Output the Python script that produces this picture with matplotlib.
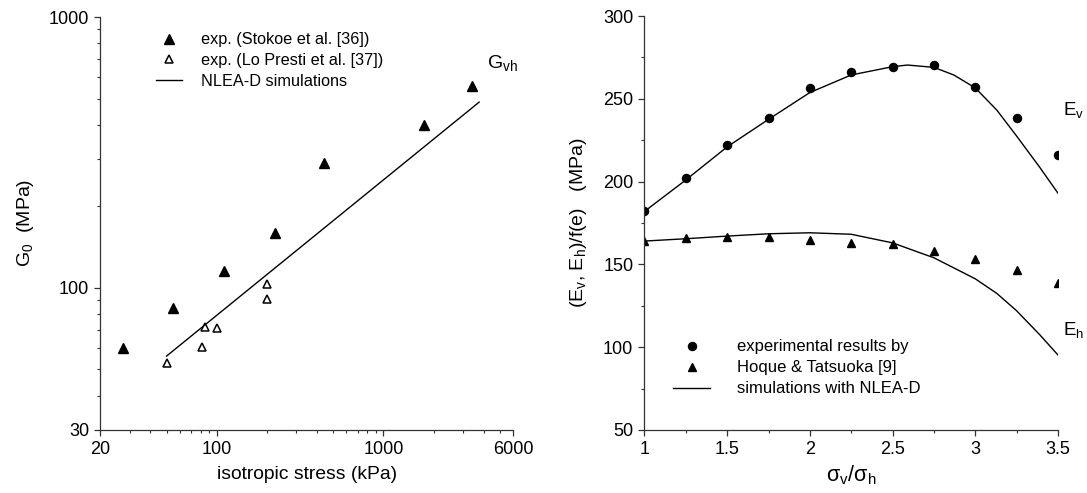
import matplotlib
matplotlib.use("Agg")
import matplotlib.pyplot as plt
from matplotlib.ticker import FixedLocator, FixedFormatter, NullFormatter

plt.rcParams['font.family'] = ['Liberation Sans', 'DejaVu Sans']
plt.rcParams['mathtext.fontset'] = 'custom'
plt.rcParams['mathtext.rm'] = 'Liberation Sans'
plt.rcParams['mathtext.it'] = 'Liberation Sans:italic'
plt.rcParams['axes.linewidth'] = 0.9

# left panel: G0 vs isotropic stress
stokoe_p = [27.3, 54.6, 110, 225, 438, 1760, 3390]
stokoe_g = [60, 84, 115, 160, 289, 399, 558]
presti_p = [50, 82, 85, 100, 200, 200]
presti_g = [52.6, 60.6, 71.6, 70.8, 103, 90.8]
sim_p = [50, 3750]
sim_g = [56, 485]

# right panel: stiffness vs stress ratio
ratio = [1.0, 1.25, 1.5, 1.75, 2.0, 2.25, 2.5, 2.75, 3.0, 3.25, 3.5]
ev_exp = [182.4, 202.2, 222.3, 238.2, 256.3, 266.2, 269.3, 270.2, 257.3, 238.2, 216.0]
eh_exp = [164.3, 166.1, 166.5, 166.4, 164.7, 163.0, 162.2, 158.2, 153.5, 146.7, 138.6]
ev_sim_x = [1.0, 1.25, 1.5, 1.75, 2.0, 2.25, 2.5, 2.59, 2.75, 2.87, 3.0, 3.13, 3.25, 3.39, 3.5]
ev_sim = [182.0, 201.0, 221.0, 237.6, 253.8, 264.4, 269.4, 270.4, 269.0, 264.4, 256.6,
          243.2, 227.5, 208.6, 193.0]
eh_sim_x = [1.0, 1.25, 1.5, 1.75, 2.0, 2.25, 2.5, 2.75, 3.0, 3.13, 3.25, 3.39, 3.5]
eh_sim = [164.1, 165.5, 167.1, 168.5, 169.1, 168.2, 163.0, 154.0, 141.3, 132.5, 122.0,
          107.5, 95.3]

fig = plt.figure(figsize=(10.87, 4.93), dpi=100)
ax1 = fig.add_axes([0.0922, 0.1288, 0.3799, 0.8367])
ax2 = fig.add_axes([0.5929, 0.1278, 0.3804, 0.8397])

# ---- left
ax1.plot(stokoe_p, stokoe_g, '^', color='black', ms=7, mec='black',
         label='exp. (Stokoe et al. [36])')
ax1.plot(presti_p, presti_g, '^', mfc='white', mec='black', ms=5.5, mew=1.1,
         label='exp. (Lo Presti et al. [37])')
ax1.plot(sim_p, sim_g, '-', color='black', lw=1.0, label='NLEA-D simulations')
ax1.set_xscale('log')
ax1.set_yscale('log')
ax1.set_xlim(20, 6000)
ax1.set_ylim(30, 1000)
ax1.xaxis.set_major_locator(FixedLocator([20, 100, 1000, 6000]))
ax1.xaxis.set_major_formatter(FixedFormatter(['20', '100', '1000', '6000']))
xminor = [30, 40, 50, 60, 70, 80, 90, 200, 300, 400, 500, 600, 700, 800, 900,
          2000, 3000, 4000, 5000]
ax1.xaxis.set_minor_locator(FixedLocator(xminor))
ax1.xaxis.set_minor_formatter(NullFormatter())
ax1.yaxis.set_major_locator(FixedLocator([30, 100, 1000]))
ax1.yaxis.set_major_formatter(FixedFormatter(['30', '100', '1000']))
yminor = [40, 50, 60, 70, 80, 90, 200, 300, 400, 500, 600, 700, 800, 900]
ax1.yaxis.set_minor_locator(FixedLocator(yminor))
ax1.yaxis.set_minor_formatter(NullFormatter())
ax1.set_xlabel('isotropic stress (kPa)', fontsize=13.9, labelpad=6)
ax1.set_ylabel(r'G$_{\rm 0}$  (MPa)', fontsize=14, labelpad=9)
ax1.text(4180, 678, r'G$_{\rm vh}$', fontsize=14, ha='left', va='center')
ax1.legend(loc='upper left', bbox_to_anchor=(0.134, 0.963), frameon=False,
           fontsize=11.7, handlelength=1.65, handletextpad=1.16, labelspacing=0.36,
           borderpad=0, borderaxespad=0, numpoints=1)

# ---- right
ax2.plot(ratio, ev_exp, 'o', color='black', ms=5.8, label='experimental results by')
ax2.plot(ratio, eh_exp, '^', color='black', ms=6, label='Hoque & Tatsuoka [9]')
ax2.plot(ev_sim_x, ev_sim, '-', color='black', lw=1.0, label='simulations with NLEA-D')
ax2.plot(eh_sim_x, eh_sim, '-', color='black', lw=1.0)
ax2.set_xlim(1, 3.5)
ax2.set_ylim(50, 300)
ax2.xaxis.set_major_locator(FixedLocator([1, 1.5, 2, 2.5, 3, 3.5]))
ax2.xaxis.set_major_formatter(FixedFormatter(['1', '1.5', '2', '2.5', '3', '3.5']))
ax2.xaxis.set_minor_locator(FixedLocator([1.25, 1.75, 2.25, 2.75, 3.25]))
ax2.yaxis.set_major_locator(FixedLocator([50, 100, 150, 200, 250, 300]))
ax2.yaxis.set_minor_locator(FixedLocator([75, 125, 175, 225, 275]))
ax2.set_xlabel('σ$_{\\rm v}$/σ$_{\\rm h}$', fontsize=15.5, labelpad=4)
ax2.set_ylabel(r'(E$_{\rm v}$, E$_{\rm h}$)/f(e)   (MPa)', fontsize=14, labelpad=10)
ax2.text(3.532, 243, r'E$_{\rm v}$', fontsize=13.5, ha='left', va='center')
ax2.text(3.53, 110.4, r'E$_{\rm h}$', fontsize=13.5, ha='left', va='center')
ax2.legend(loc='upper left', bbox_to_anchor=(0.069, 0.219), frameon=False,
           fontsize=12, handlelength=2.22, handletextpad=1.6, labelspacing=0.36,
           borderpad=0, borderaxespad=0, numpoints=1)

for ax in (ax1, ax2):
    ax.spines['top'].set_visible(False)
    ax.spines['right'].set_visible(False)
    ax.spines['left'].set_color('#333333')
    ax.spines['bottom'].set_color('#333333')
    ax.tick_params(which='major', direction='out', length=4.5, width=0.9,
                   labelsize=13, color='#333333')
    ax.tick_params(which='minor', direction='out', length=2.2, width=0.8,
                   color='#333333')
    for s in ax.spines.values():
        s.set_clip_on(False)

fig.savefig('out.png', dpi=100)
